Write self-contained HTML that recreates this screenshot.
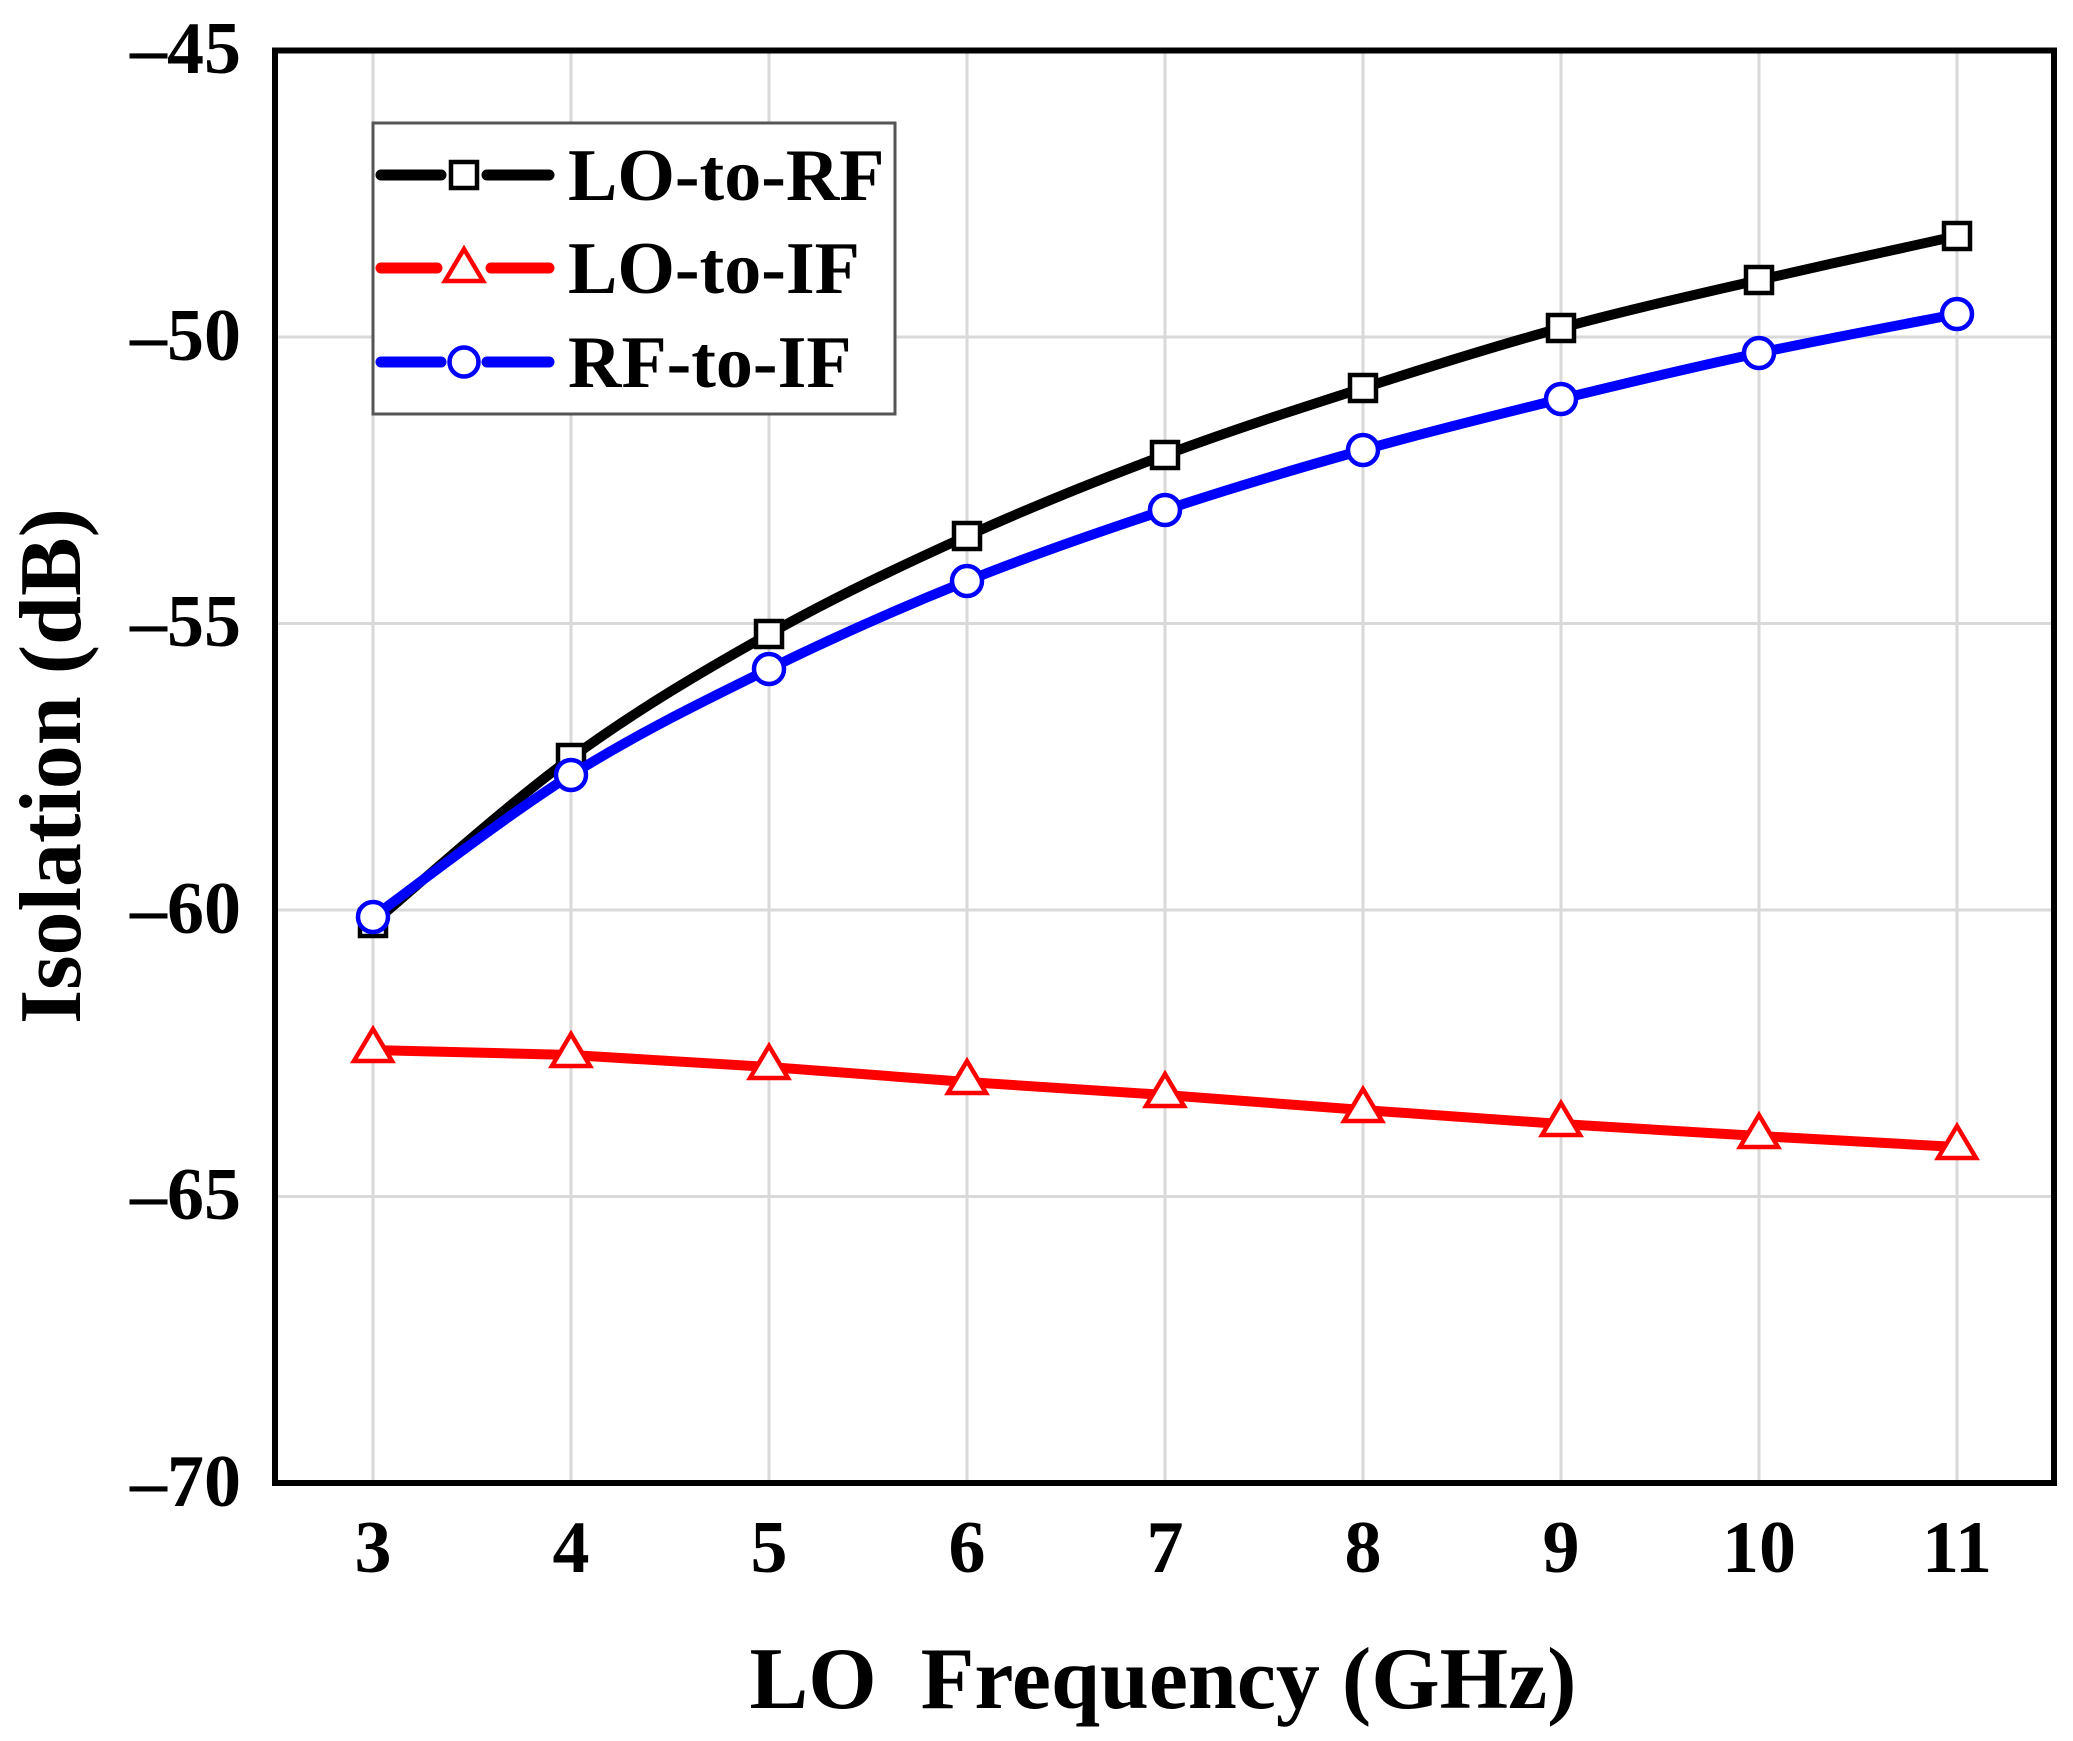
<!DOCTYPE html>
<html>
<head>
<meta charset="utf-8">
<style>
html,body{margin:0;padding:0;background:#fff;}
svg{display:block;}
text{font-family:"Liberation Serif","Times New Roman",serif;font-weight:bold;fill:#000;}
</style>
</head>
<body>
<svg width="2073" height="1741" viewBox="0 0 2073 1741" xmlns="http://www.w3.org/2000/svg">
<rect x="0" y="0" width="2073" height="1741" fill="#fff"/>
<!-- gridlines -->
<g stroke="#d9d9d9" stroke-width="3">
<line x1="373" y1="50" x2="373" y2="1483"/>
<line x1="571" y1="50" x2="571" y2="1483"/>
<line x1="769" y1="50" x2="769" y2="1483"/>
<line x1="967" y1="50" x2="967" y2="1483"/>
<line x1="1165" y1="50" x2="1165" y2="1483"/>
<line x1="1363" y1="50" x2="1363" y2="1483"/>
<line x1="1561" y1="50" x2="1561" y2="1483"/>
<line x1="1759" y1="50" x2="1759" y2="1483"/>
<line x1="1957" y1="50" x2="1957" y2="1483"/>
<line x1="275" y1="337" x2="2054" y2="337"/>
<line x1="275" y1="623.5" x2="2054" y2="623.5"/>
<line x1="275" y1="910" x2="2054" y2="910"/>
<line x1="275" y1="1196.5" x2="2054" y2="1196.5"/>
</g>
<!-- frame -->
<rect x="275" y="50.5" width="1779" height="1432.5" fill="none" stroke="#000" stroke-width="6"/>
<!-- y tick labels -->
<g font-size="74" text-anchor="end">
<text x="241" y="73">–45</text>
<text x="241" y="360">–50</text>
<text x="241" y="646">–55</text>
<text x="241" y="933">–60</text>
<text x="241" y="1219">–65</text>
<text x="241" y="1506">–70</text>
</g>
<!-- x tick labels -->
<g font-size="74" text-anchor="middle">
<text x="373" y="1572">3</text>
<text x="571" y="1572">4</text>
<text x="769" y="1572">5</text>
<text x="967" y="1572">6</text>
<text x="1165" y="1572">7</text>
<text x="1363" y="1572">8</text>
<text x="1561" y="1572">9</text>
<text x="1759" y="1572">10</text>
<text x="1957" y="1572">11</text>
</g>
<!-- axis titles -->
<text x="1163" y="1708" font-size="88" text-anchor="middle" xml:space="preserve">LO  Frequency (GHz)</text>
<text transform="translate(80,766) rotate(-90)" font-size="88" text-anchor="middle">Isolation (dB)</text>
<!-- legend -->
<rect x="373" y="123" width="522" height="291" fill="#fff" stroke="#555" stroke-width="3"/>
<g stroke-width="11" stroke-linecap="round">
<line x1="381" y1="175" x2="441" y2="175" stroke="#000"/>
<line x1="487" y1="175" x2="549" y2="175" stroke="#000"/>
<line x1="381" y1="268" x2="437" y2="268" stroke="#f00"/>
<line x1="491" y1="268" x2="549" y2="268" stroke="#f00"/>
<line x1="381" y1="362" x2="441" y2="362" stroke="#00f"/>
<line x1="487" y1="362" x2="549" y2="362" stroke="#00f"/>
</g>
<rect x="451" y="162" width="26" height="26" fill="#fff" stroke="#000" stroke-width="4.5"/>
<path d="M464,249 L445,281 L483,281 Z" fill="#fff" stroke="#f00" stroke-width="4.5" stroke-linejoin="miter"/>
<circle cx="464" cy="362" r="14.5" fill="#fff" stroke="#00f" stroke-width="4.5"/>
<g font-size="74">
<text x="568" y="200">LO-to-RF</text>
<text x="568" y="293">LO-to-IF</text>
<text x="568" y="387">RF-to-IF</text>
</g>
<!-- LO-to-RF (black) -->
<path fill="none" stroke="#000" stroke-width="10" stroke-linejoin="round" d="M373,923 C406,895.5 505,806.2 571,758 C637,709.8 703,671 769,634 C835,597 901,565.8 967,536 C1033,506.2 1099,479.7 1165,455 C1231,430.3 1297,409.2 1363,388 C1429,366.8 1495,346 1561,328 C1627,310 1693,295.3 1759,280 C1825,264.7 1924,243.3 1957,236"/>
<g fill="#fff" stroke="#000" stroke-width="4.5">
<rect x="360" y="910" width="26" height="26"/>
<rect x="558" y="745" width="26" height="26"/>
<rect x="756" y="621" width="26" height="26"/>
<rect x="954" y="523" width="26" height="26"/>
<rect x="1152" y="442" width="26" height="26"/>
<rect x="1350" y="375" width="26" height="26"/>
<rect x="1548" y="315" width="26" height="26"/>
<rect x="1746" y="267" width="26" height="26"/>
<rect x="1944" y="223" width="26" height="26"/>
</g>
<!-- LO-to-IF (red) -->
<polyline fill="none" stroke="#f00" stroke-width="10" stroke-linejoin="round" points="373,1050 571,1055 769,1067 967,1082 1165,1095 1363,1110 1561,1124 1759,1136 1957,1147"/>
<g fill="#fff" stroke="#f00" stroke-width="4.5" stroke-linejoin="miter">
<path d="M373,1029 L354,1061 L392,1061 Z"/>
<path d="M571,1034 L552,1066 L590,1066 Z"/>
<path d="M769,1046 L750,1078 L788,1078 Z"/>
<path d="M967,1061 L948,1093 L986,1093 Z"/>
<path d="M1165,1074 L1146,1106 L1184,1106 Z"/>
<path d="M1363,1089 L1344,1121 L1382,1121 Z"/>
<path d="M1561,1103 L1542,1135 L1580,1135 Z"/>
<path d="M1759,1115 L1740,1147 L1778,1147 Z"/>
<path d="M1957,1126 L1938,1158 L1976,1158 Z"/>
</g>
<!-- RF-to-IF (blue) -->
<path fill="none" stroke="#00f" stroke-width="10" stroke-linejoin="round" d="M373,917 C406,893.3 505,816.3 571,775 C637,733.7 703,701.3 769,669 C835,636.7 901,607.5 967,581 C1033,554.5 1099,531.8 1165,510 C1231,488.2 1297,468.5 1363,450 C1429,431.5 1495,415.2 1561,399 C1627,382.8 1693,367.2 1759,353 C1825,338.8 1924,320.5 1957,314"/>
<g fill="#fff" stroke="#00f" stroke-width="4.5">
<circle cx="373" cy="917" r="15"/>
<circle cx="571" cy="775" r="15"/>
<circle cx="769" cy="669" r="15"/>
<circle cx="967" cy="581" r="15"/>
<circle cx="1165" cy="510" r="15"/>
<circle cx="1363" cy="450" r="15"/>
<circle cx="1561" cy="399" r="15"/>
<circle cx="1759" cy="353" r="15"/>
<circle cx="1957" cy="314" r="15"/>
</g>
</svg>
</body>
</html>
